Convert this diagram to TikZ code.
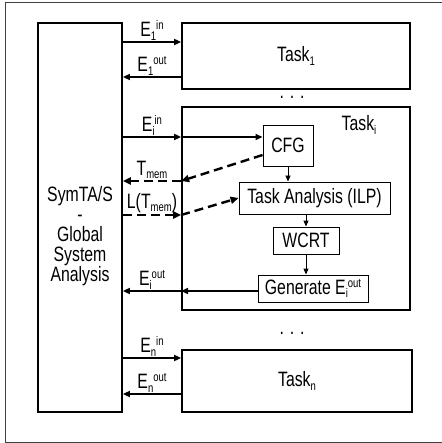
\documentclass[tikz,border=0pt]{standalone}
\usepackage{fontspec}
\setmainfont{Liberation Sans}[FakeStretch=0.76]
\usetikzlibrary{arrows.meta}

% small lowered / raised text for indices
\newcommand\lowtxt[1]{\raisebox{-3.5pt}{\fontsize{12.5}{12}\selectfont #1}}
\newcommand\hightxt[1]{\raisebox{7pt}{\fontsize{12.5}{12}\selectfont #1}}

\tikzset{
  bigbox/.style={draw, line width=1.8pt, inner sep=0pt},
  smallbox/.style={draw, line width=0.9pt, inner sep=0pt},
  flow/.style={line width=1.8pt, -{Triangle[length=7pt,width=6pt]}},
  thinflow/.style={line width=0.9pt, -{Triangle[length=6pt,width=5pt]}},
  memflow/.style={line width=2.4pt, dash pattern=on 9pt off 5pt, -{Triangle[length=8pt,width=7pt]}},
  lbl/.style={above, inner sep=1pt},
}

\begin{document}
\begin{tikzpicture}[x=1pt, y=-1pt, font=\fontsize{20.8}{18.5}\selectfont]

  % Fix the size of the picture
  \useasboundingbox (0,0) rectangle (441,443);

  % Draw the outer frame (its right side lies outside the picture)
  \draw[line width=0.8pt, black!75] (450,2) -- (5,2) -- (5,442) -- (450,442);

  % Global analysis block
  \node[bigbox, minimum width=84pt, minimum height=389pt] (sys) at (80,217.5) {};
  \node[align=center, font=\fontsize{20.8}{20}\selectfont] (symta) at (80,236) {SymTA/S\\-\\Global\\System\\Analysis};

  % Task blocks
  \node[bigbox, minimum width=228pt, minimum height=66pt] (task1) at (296,56) {Task\lowtxt{1}};
  \node[bigbox, minimum width=228pt, minimum height=203pt] (taski) at (296,208.5) {};
  \node (taskilbl) at (359,125) {Task\lowtxt{i}};
  \node[bigbox, minimum width=230pt, minimum height=62pt] (taskn) at (297,381) {Task\lowtxt{n}};

  % Dots between the tasks
  \node (dots1) at (292,97) {. . .};
  \node (dots2) at (292,333) {. . .};

  % Steps inside Task_i
  \node[smallbox, minimum width=50pt, minimum height=41pt] (cfg) at (288,145.5) {CFG};
  \node[smallbox, minimum width=151pt, minimum height=32pt] (ta) at (314.5,198) {Task Analysis (ILP)};
  \node[smallbox, minimum width=66pt, minimum height=27pt] (wcrt) at (306,240.5) {WCRT};
  \node[smallbox, minimum width=110pt, minimum height=27pt] (gen) at (313,288.5) {Generate E\lowtxt{i}\hightxt{out}};

  % Arrows between the steps
  \draw[thinflow] (cfg.south) -- (ta.north -| cfg.south);
  \draw[thinflow] (ta.south -| wcrt.north) -- (wcrt.north);
  \draw[thinflow] (wcrt.south) -- (gen.north -| wcrt.south);

  % Heights of the event arrows
  \coordinate (in1) at (0,42);
  \coordinate (out1) at (0,77);
  \coordinate (ini) at (0,137);
  \coordinate (cfgmem) at (0,155);
  \coordinate (tmem) at (0,181);
  \coordinate (ltmem) at (0,215);
  \coordinate (outi) at (0,291);
  \coordinate (inn) at (0,358);
  \coordinate (outn) at (0,394);

  % Events of Task_1
  \draw[flow] (in1 -| sys.east) -- (in1 -| task1.west) node[lbl, midway] {E\lowtxt{1}\hightxt{in}};
  \draw[flow] (out1 -| task1.west) -- (out1 -| sys.east) node[lbl, midway] {E\lowtxt{1}\hightxt{out}};

  % Events and memory data of Task_i
  \draw[flow] (ini -| sys.east) -- (ini -| taski.west) node[lbl, midway] {E\lowtxt{i}\hightxt{in}};
  \draw[flow] (ini -| taski.west) -- (ini -| cfg.west);
  \draw[memflow] (cfgmem -| cfg.west) -- (tmem -| taski.west);
  \draw[memflow] (tmem -| taski.west) -- (tmem -| sys.east) node[lbl, midway] {T\lowtxt{mem}};
  \draw[memflow] (ltmem -| sys.east) -- (ltmem -| taski.west) node[lbl, midway] {L(T\lowtxt{mem})};
  \draw[memflow] (ltmem -| taski.west) -- (ta.west);
  \draw[flow] (outi -| gen.west) -- (outi -| taski.west);
  \draw[flow] (outi -| taski.west) -- (outi -| sys.east) node[lbl, midway] {E\lowtxt{i}\hightxt{out}};

  % Events of Task_n
  \draw[flow] (inn -| sys.east) -- (inn -| taskn.west) node[lbl, midway] {E\lowtxt{n}\hightxt{in}};
  \draw[flow] (outn -| taskn.west) -- (outn -| sys.east) node[lbl, midway] {E\lowtxt{n}\hightxt{out}};

\end{tikzpicture}
\end{document}
